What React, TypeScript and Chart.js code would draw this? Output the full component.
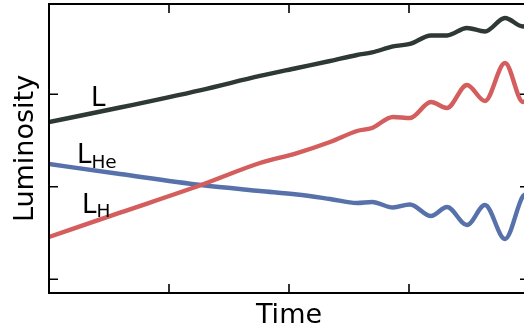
import { useEffect, useRef } from "react";
import { Chart, registerables } from "chart.js";

Chart.register(...registerables);

// Sample times (arbitrary units) shared by all three curves
const time = [0, 0.592, 1.267, 1.758, 2.067, 2.342, 2.567, 2.692, 2.867, 3.008, 3.183, 3.317, 3.483, 3.633, 3.8, 3.95, 4.0];

// Total luminosity
const lumTotal = [1.7, 1.857, 2.046, 2.198, 2.284, 2.36, 2.425, 2.452, 2.517, 2.544, 2.636, 2.636, 2.717, 2.679, 2.825, 2.733, 2.749];
// Hydrogen-burning luminosity
const lumH = [0.457, 0.72, 1.019, 1.257, 1.365, 1.484, 1.603, 1.636, 1.755, 1.744, 1.917, 1.852, 2.101, 1.928, 2.338, 1.917, 1.96];
// Helium-burning luminosity
const lumHe = [1.246, 1.138, 1.019, 0.955, 0.917, 0.868, 0.825, 0.836, 0.776, 0.809, 0.684, 0.782, 0.587, 0.803, 0.436, 0.901, 0.933];

// Unlabelled tick positions
const xTicks = [1, 2, 3];
const yTicks = [0, 1, 2];

const FONT = '"DejaVu Sans", "Liberation Sans", sans-serif';
const COLOR_TOTAL = "#2e3934";
const COLOR_H = "#d45d5d";
const COLOR_HE = "#5771ab";

// Curve names as main letter + subscript, with their anchor in data units
const curveLabels = [
  { main: "L", sub: "", t: 0.35, y: 1.874 },
  { main: "L", sub: "He", t: 0.233, y: 1.257 },
  { main: "L", sub: "H", t: 0.275, y: 0.717 },
];

const framePlugin = {
  id: "frame",
  afterDraw(chart: any) {
    const { ctx, chartArea: a, scales } = chart;
    const xs = scales.x;
    const ys = scales.y;
    ctx.save();

    // box
    ctx.strokeStyle = "#000";
    ctx.lineWidth = 2;
    ctx.strokeRect(a.left, a.top, a.right - a.left, a.bottom - a.top);

    // inward ticks on all four sides
    const len = 9;
    ctx.lineWidth = 1.6;
    ctx.beginPath();
    for (const v of xTicks) {
      const px = Math.round(xs.getPixelForValue(v));
      ctx.moveTo(px, a.bottom);
      ctx.lineTo(px, a.bottom - len);
      ctx.moveTo(px, a.top);
      ctx.lineTo(px, a.top + len);
    }
    for (const v of yTicks) {
      const py = ys.getPixelForValue(v);
      ctx.moveTo(a.left, py);
      ctx.lineTo(a.left + len, py);
      ctx.moveTo(a.right, py);
      ctx.lineTo(a.right - len, py);
    }
    ctx.stroke();

    // axis titles
    ctx.fillStyle = "#000";
    ctx.font = `27px ${FONT}`;
    ctx.textAlign = "center";
    ctx.textBaseline = "alphabetic";
    ctx.fillText("Time", (a.left + a.right) / 2, a.bottom + 30);
    ctx.save();
    ctx.translate(a.left - 16, (a.top + a.bottom) / 2);
    ctx.rotate(-Math.PI / 2);
    ctx.fillText("Luminosity", 0, 0);
    ctx.restore();

    // curve names
    ctx.textAlign = "left";
    for (const lab of curveLabels) {
      const px = xs.getPixelForValue(lab.t);
      const py = ys.getPixelForValue(lab.y);
      ctx.font = `26px ${FONT}`;
      ctx.fillText(lab.main, px, py);
      if (lab.sub) {
        const w = ctx.measureText(lab.main).width;
        ctx.font = `18.5px ${FONT}`;
        ctx.fillText(lab.sub, px + w, py + 4.5);
      }
    }
    ctx.restore();
  },
};

function series(values: number[], color: string) {
  return {
    data: time.map((t, i) => ({ x: t, y: values[i] })),
    borderColor: color,
    borderWidth: 4.4,
    pointRadius: 0,
    fill: false,
    cubicInterpolationMode: "monotone" as const,
  };
}

export default function App() {
  const ref = useRef<HTMLCanvasElement>(null);

  useEffect(() => {
    const chart = new Chart(ref.current!, {
      type: "line",
      data: {
        datasets: [
          { ...series(lumTotal, COLOR_TOTAL), label: "L" },
          { ...series(lumH, COLOR_H), label: "L_H" },
          { ...series(lumHe, COLOR_HE), label: "L_He" },
        ],
      },
      options: {
        responsive: false,
        animation: false,
        devicePixelRatio: 1,
        layout: { padding: { left: 49, top: 4, right: 11, bottom: 39 } },
        plugins: { legend: { display: false }, tooltip: { enabled: false } },
        scales: {
          x: { type: "linear", display: false, min: 0, max: 4 },
          y: { type: "linear", display: false, min: -0.148, max: 2.976 },
        },
      },
      plugins: [framePlugin],
    });
    return () => chart.destroy();
  }, []);

  return (
    <div
      style={{
        position: "fixed",
        left: 0,
        top: 0,
        width: 524,
        height: 332,
        overflow: "hidden",
        background: "#fff",
      }}
    >
      <canvas ref={ref} width={540} height={332} style={{ display: "block" }} />
    </div>
  );
}
